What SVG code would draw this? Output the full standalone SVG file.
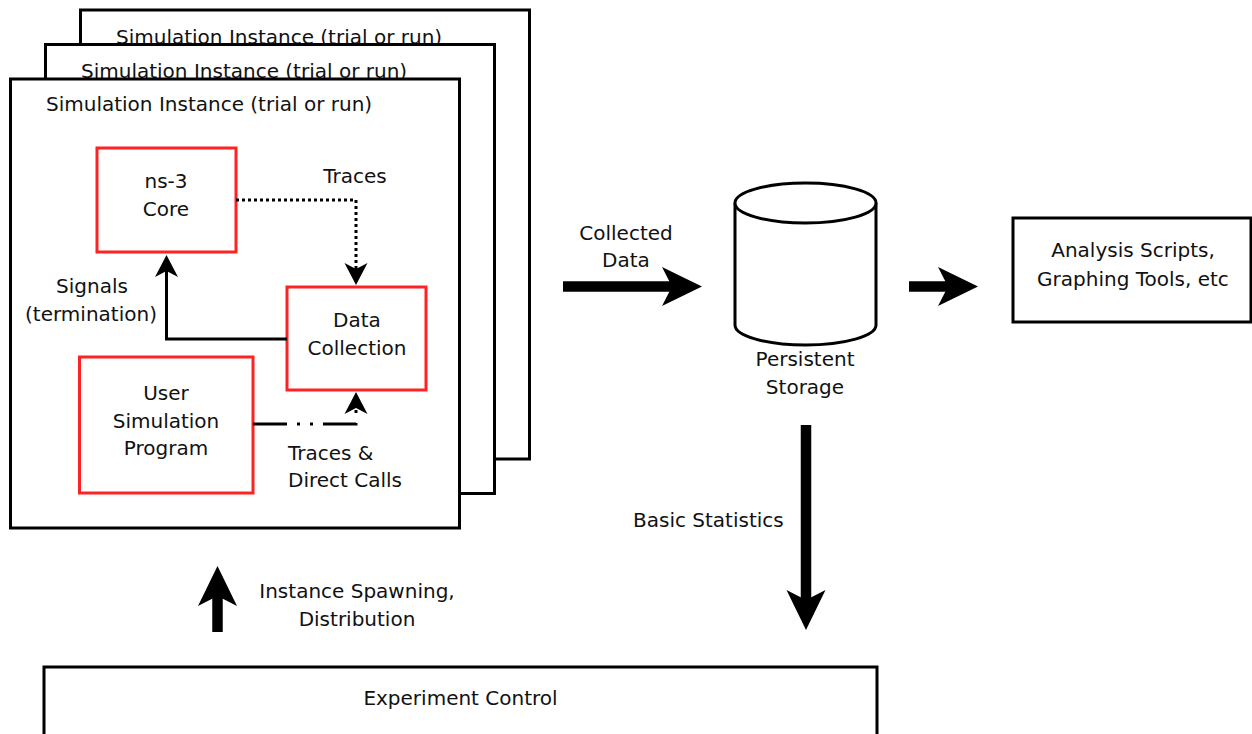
<svg xmlns="http://www.w3.org/2000/svg" width="1252" height="734" viewBox="0 0 1252 734">
<defs>
<style>
text{font-family:"DejaVu Sans","Liberation Sans",sans-serif;font-size:20px;fill:#111}
.m{text-anchor:middle}
.box{fill:#fff;stroke:#000;stroke-width:3}
.red{fill:#fff;stroke:#f22;stroke-width:3}
.thin{fill:none;stroke:#000;stroke-width:3}
.thick{fill:none;stroke:#000;stroke-width:10.5}
</style>
<marker id="ah" markerUnits="userSpaceOnUse" orient="auto" viewBox="-8 -13 26 26" refX="0" refY="0" markerWidth="26" markerHeight="26" overflow="visible">
<path d="M16,0 L-6,-11.5 L0,0 L-6,11.5 Z" fill="#000"/>
</marker>
<marker id="bh" markerUnits="userSpaceOnUse" orient="auto" viewBox="-12 -21 44 42" refX="0" refY="0" markerWidth="44" markerHeight="42" overflow="visible">
<path d="M30,0 L-10,-19.5 L0,0 L-10,19.5 Z" fill="#000"/>
</marker>
</defs>

<g id="instance3">
<rect class="box" x="80.5" y="10" width="449" height="449"/>
<text x="116" y="43.5">Simulation Instance (trial or run)</text>
</g>
<g id="instance2">
<rect class="box" x="45.5" y="44.5" width="449" height="449"/>
<text x="81" y="78">Simulation Instance (trial or run)</text>
</g>
<g id="instance1">
<rect class="box" x="10.5" y="79" width="449" height="449"/>
<text x="46" y="111">Simulation Instance (trial or run)</text>
</g>

<g id="ns3core">
<rect class="red" x="97" y="148" width="139" height="104"/>
<text class="m" x="166" y="188">ns-3</text>
<text class="m" x="166" y="216">Core</text>
</g>
<g id="datacollection">
<rect class="red" x="287" y="287" width="139" height="103"/>
<text class="m" x="357" y="327">Data</text>
<text class="m" x="357" y="355">Collection</text>
</g>
<g id="usersim">
<rect class="red" x="79.5" y="357" width="173.5" height="136"/>
<text class="m" x="166" y="400">User</text>
<text class="m" x="166" y="428">Simulation</text>
<text class="m" x="166" y="455">Program</text>
</g>

<g id="storage">
<path d="M735,203 V325 A70.5,20 0 0 0 876,325 V203" fill="#fff" stroke="#000" stroke-width="3"/>
<ellipse cx="805.5" cy="203" rx="70.5" ry="20" fill="#fff" stroke="#000" stroke-width="3"/>
<text class="m" x="805" y="366">Persistent</text>
<text class="m" x="805" y="394">Storage</text>
</g>

<g id="analysis">
<rect class="box" x="1013" y="218" width="238" height="104"/>
<text class="m" x="1133" y="257">Analysis Scripts,</text>
<text class="m" x="1133" y="286">Graphing Tools, etc</text>
</g>

<g id="experiment">
<rect class="box" x="44" y="667" width="833" height="100"/>
<text class="m" x="460.5" y="705">Experiment Control</text>
</g>

<g id="connectors">
<path class="thin" d="M236,200 H356 V269" stroke-dasharray="3 3" marker-end="url(#ah)"/>
<path class="thin" d="M287,339 H166.5 V271" marker-end="url(#ah)"/>
<path class="thin" d="M253,424 H356 V408" stroke-dasharray="34 10 3 10 3 10" marker-end="url(#ah)"/>
<path class="thick" d="M563,286.5 H672" marker-end="url(#bh)"/>
<path class="thick" d="M909,286.5 H948" marker-end="url(#bh)"/>
<path class="thick" d="M806,425 V600" marker-end="url(#bh)"/>
<path class="thick" d="M217.5,632 V596" marker-end="url(#bh)"/>
<text x="355" y="183" class="m">Traces</text>
<text x="92" y="293" class="m">Signals</text>
<text x="91" y="321" class="m">(termination)</text>
<text x="288" y="460">Traces &amp;</text>
<text x="288" y="487">Direct Calls</text>
<text x="626" y="240" class="m">Collected</text>
<text x="626" y="267" class="m">Data</text>
<text x="633" y="527">Basic Statistics</text>
<text x="357" y="598" class="m">Instance Spawning,</text>
<text x="357" y="626" class="m">Distribution</text>
</g>
</svg>
